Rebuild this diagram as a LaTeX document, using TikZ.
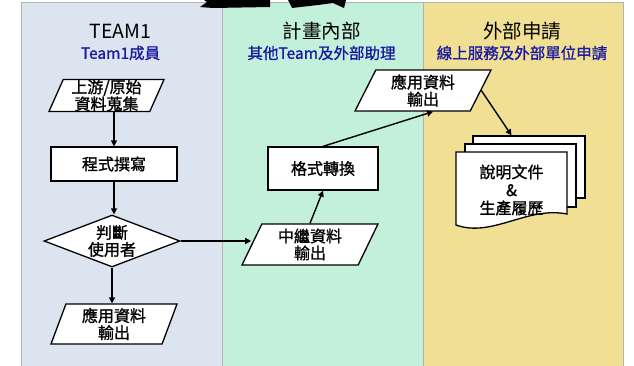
\documentclass[tikz,border=0pt]{standalone}
\usepackage{fontspec}
\setmainfont{Noto Sans CJK TC}
\newfontfamily\heavyfont{Noto Sans CJK TC}[FakeBold=1.2]
\usetikzlibrary{shapes.geometric,arrows.meta}

\definecolor{laneA}{RGB}{220,228,240}
\definecolor{laneB}{RGB}{195,240,218}
\definecolor{laneC}{RGB}{241,223,148}
\definecolor{subblue}{RGB}{28,28,160}

\begin{document}
\begin{tikzpicture}[x=1pt,y=-1pt,
  every node/.style={draw,fill=white,line width=1.3pt,align=center,
    font=\heavyfont\fontsize{16}{17}\selectfont},
  head/.style={draw=none,fill=none,font=\fontsize{19.5}{20}\selectfont},
  sub/.style={draw=none,fill=none,text=subblue,font=\heavyfont\fontsize{15.5}{16}\selectfont},
  io/.style={trapezium,trapezium stretches body,inner sep=0pt},
  proc/.style={rectangle,inner sep=0pt},
  flow/.style={line width=1.4pt,-{Triangle[length=6pt,width=6pt]}}]

\useasboundingbox (0,0) rectangle (634,365);

% ( the three lanes run off the bottom edge )
\filldraw[fill=laneA,draw=gray!60,line width=.6pt] (21,2) rectangle (222,366);
\filldraw[fill=laneB,draw=gray!60,line width=.6pt] (222,2) rectangle (423,366);
\filldraw[fill=laneC,draw=gray!60,line width=.6pt] (423,2) rectangle (623,366);

% what is left of the title above
\fill (204,0) -- (270,0) -- (270,7) -- (213,8) -- (200,7) -- (207,2) -- cycle;
\fill (288,0) -- (346,0) -- (344,8) -- (333,3) -- (318,5) -- (292,8) -- cycle;

\path
(120.5,31.5) node[head](h1){TEAM1}
(120.5,53)   node[sub](s1){Team1成員}
(321.5,31.5) node[head](h2){計畫內部}
(321.5,53)   node[sub](s2){其他Team及外部助理}
(522,31.5)   node[head](h3){外部申請}
(522,53)     node[sub](s3){線上服務及外部單位申請};

\path
(106.5,95.5) node[io,trapezium left angle=66,trapezium right angle=114,
  minimum width=115pt,minimum height=31pt](src){上游/原始\\資料蒐集}
(114,164) node[proc,minimum width=126pt,minimum height=34pt](prog){程式撰寫}
(112,241) node[diamond,aspect=2.6,inner sep=0pt,
  minimum width=136pt,minimum height=52pt](judge){判斷\\使用者}
(114,324) node[io,trapezium left angle=65,trapezium right angle=115,
  minimum width=126pt,minimum height=40pt](out1){應用資料\\輸出}
(310,244.5) node[io,trapezium left angle=58,trapezium right angle=122,
  minimum width=136pt,minimum height=41pt](relay){中繼資料\\輸出}
(323,168.5) node[proc,minimum width=110pt,minimum height=43pt](conv){格式轉換}
(423,90.5) node[io,trapezium left angle=57,trapezium right angle=123,
  minimum width=136pt,minimum height=41pt](out2){應用資料\\輸出};

% stack of documents
\path
(529,167) node[proc,minimum width=112pt,minimum height=62pt](docB){}
(520.5,175.5) node[proc,minimum width=111pt,minimum height=63pt](docM){};
\filldraw[fill=white,line width=1.3pt] (456,152) -- (567,152) -- (567,214)
  .. controls (527,206) and (492,238) .. (456,225) -- cycle;
\node[draw=none,fill=none,font=\heavyfont\fontsize{16}{18}\selectfont] (doc) at (511.5,190)
  {說明文件\\\&\\生產履歷};

\draw[flow] (src.south -| prog.north) -- (prog.north);
\draw[flow] (prog.south) -- (prog.south |- judge.north);
\draw[flow] (judge.south) -- (judge.south |- out1.north);
\draw[flow] (judge.east) -- (judge.east -| relay.west);
\draw[flow] (relay.north) -- (conv.south);
\draw[flow] (conv.north) -- ([xshift=10pt]out2.south);
\draw[flow] (out2.east) -- (doc.north |- docB.north);
\end{tikzpicture}
\end{document}
